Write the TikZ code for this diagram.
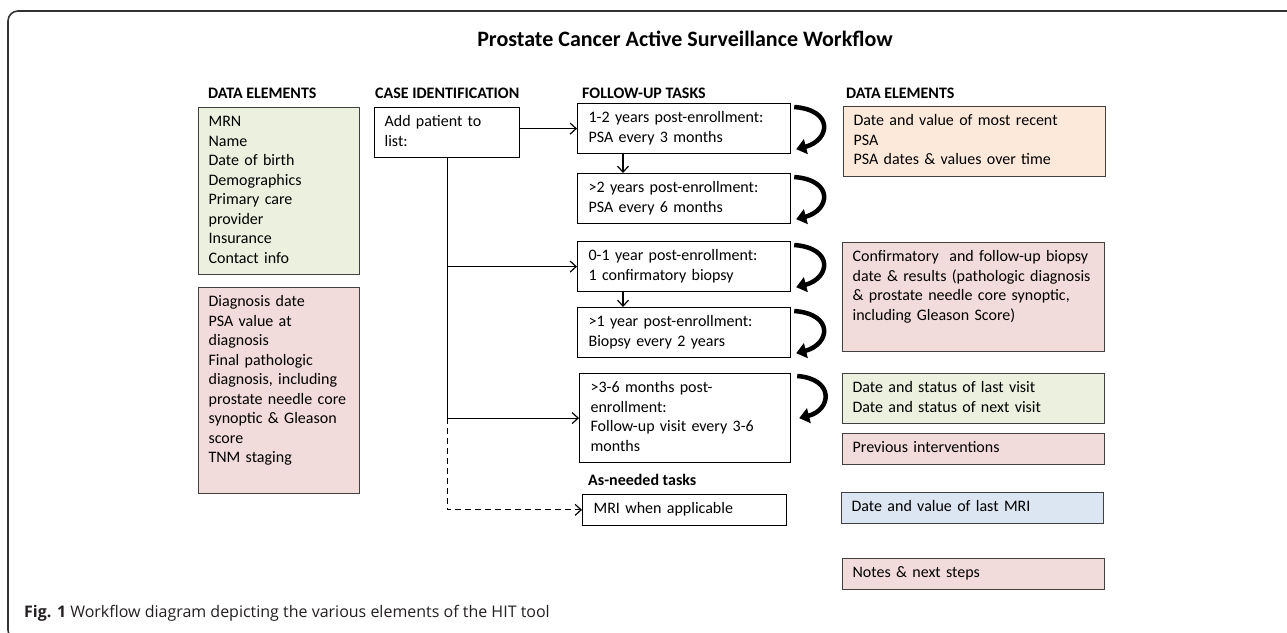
\documentclass[tikz,border=0pt]{standalone}
\usepackage{fontspec}
\setmainfont{Carlito}
\newfontfamily\capfont{Open Sans}
\usetikzlibrary{arrows.meta}
\definecolor{bgreen}{HTML}{EBF1DE}
\definecolor{bpink}{HTML}{F2DCDB}
\definecolor{bpeach}{HTML}{FDE9D9}
\definecolor{bblue}{HTML}{DCE6F2}
\definecolor{bline}{HTML}{404040}
\definecolor{frameline}{HTML}{333333}
\definecolor{captext}{HTML}{231F20}
\begin{document}
\begin{tikzpicture}[x=1pt,y=-1pt,
  every node/.style={font=\fontsize{16}{19.5}\selectfont},
  box/.style={draw=bline, line width=1.2pt, anchor=north west, align=left,
    inner xsep=10pt, inner ysep=5.5pt,
    execute at begin node=\strut, execute at end node=\strut},
  task/.style={box, draw=black, fill=white, inner xsep=11pt},
  hdr/.style={anchor=base west, inner sep=0pt, font=\bfseries\fontsize{16}{19.5}\selectfont},
  thin/.style={line width=1.2pt, -{Straight Barb[length=6pt,width=11pt]}},
  loop/.style={line width=4.5pt, -{Triangle[length=10pt,width=15pt]}},
]
\useasboundingbox (0,0) rectangle (1287,632);
\clip (0,0) rectangle (1287,632);
% frame
\draw[frameline, line width=1.6pt, rounded corners=10pt] (1300,11) -- (8,11) -- (8,640) -- (60,640);
% title
\node[anchor=base, inner sep=0pt, font=\bfseries\fontsize{22}{26}\selectfont] (title) at (685,46) {Prostate Cancer Active Surveillance Workflow};
% headers
\node[hdr] (h1) at (208,98) {DATA ELEMENTS};
\node[hdr] (h2) at (375,98) {CASE IDENTIFICATION};
\node[hdr] (h3) at (582,98) {FOLLOW-UP TASKS};
\node[hdr] (h4) at (846,98) {DATA ELEMENTS};
% left data elements
\node[box, fill=bgreen, text width=141pt] (lg) at (198,107)
  {MRN\\Name\\Date of birth\\Demographics\\Primary care\\provider\\Insurance\\Contact info};
\node[box, fill=bpink, text width=141pt] (lp) at (198,287)
  {Diagnosis date\\PSA value at\\diagnosis\\Final pathologic\\diagnosis, including\\prostate needle core\\synoptic \& Gleason\\score\\TNM staging\\};
% case identification
\node[box, draw=black, fill=white, text width=125pt] (cb) at (374,107) {Add patient to\\list:};
% follow-up tasks
\node[task, text width=191pt] (f1) at (577,103) {1-2 years post-enrollment:\\PSA every 3 months};
\node[task, text width=191pt] (f2) at (577,173) {>2 years post-enrollment:\\PSA every 6 months};
\node[task, text width=191pt] (f3) at (577,241) {0-1 year post-enrollment:\\1 confirmatory biopsy};
\node[task, text width=191pt] (f4) at (577,307) {>1 year post-enrollment:\\Biopsy every 2 years};
\node[task, text width=189pt] (f5) at (579,373) {>3-6 months post-\\enrollment:\\Follow-up visit every 3-6\\months};
\node[hdr] (asn) at (588,485) {As-needed tasks};
\node[task, text width=182pt] (mri) at (582,494) {MRI when applicable};
% right data elements
\node[box, fill=bpeach, text width=242pt] (r1) at (843,106)
  {Date and value of most recent\\PSA\\PSA dates \& values over time};
\node[box, fill=bpink, text width=242pt] (r2) at (842,242)
  {Confirmatory\ \ and follow-up biopsy\\date \& results (pathologic diagnosis\\\& prostate needle core synoptic,\\including Gleason Score)\\};
\node[box, fill=bgreen, text width=242pt] (r3) at (842,373)
  {Date and status of last visit\\Date and status of next visit};
\node[box, fill=bpink, text width=242pt] (r4) at (842,433) {Previous interventions};
\node[box, fill=bblue, text width=242pt] (r5) at (841,492) {Date and value of last MRI};
\node[box, fill=bpink, text width=242pt] (r6) at (842,558) {Notes \& next steps};
% connectors
\coordinate (tj3) at (cb.south |- f3.west);
\coordinate (tj5) at (cb.south |- f5.west);
\coordinate (tjm) at (cb.south |- mri.west);
\draw[thin] (cb.east |- f1.west) -- (f1.west);
\draw[line width=1.2pt] (cb.south) -- (tj5);
\draw[thin] (tj3) -- (f3.west);
\draw[thin] (tj5) -- (f5.west);
\draw[thin, dash pattern=on 6pt off 4pt] (tj5) -- (tjm) -- (mri.west);
\draw[thin] (f1.south -| 623,0) -- (f2.north -| 623,0);
\draw[thin] (f3.south -| 623,0) -- (f4.north -| 623,0);
% curved loop arrows
\foreach \b in {f1,f2,f3,f4} {
  \coordinate (s\b) at ([xshift=3pt,yshift=-4pt]\b.north east);
  \coordinate (e\b) at ([xshift=5pt,yshift=5pt]\b.south east);
  \draw[loop] (s\b) .. controls +(40,3) and +(34,-9) .. (e\b);
}
\coordinate (sf5) at ([xshift=6pt,yshift=-3pt]f5.north east);
\coordinate (ef5) at ([xshift=8pt]f5.east);
\draw[loop] (sf5) .. controls +(38,3) and +(32,-8) .. (ef5);
% caption
\node[anchor=base west, inner sep=0pt, text=captext, font=\capfont\fontsize{16}{19}\selectfont] (cap) at (24,617)
  {\textbf{Fig. 1} Workflow diagram depicting the various elements of the HIT tool};
\end{tikzpicture}
\end{document}
